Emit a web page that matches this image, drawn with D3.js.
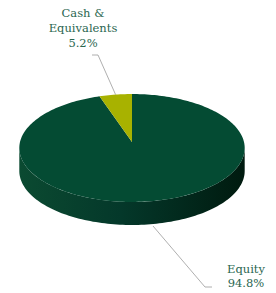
<!DOCTYPE html>
<html><head><meta charset="utf-8">
<script src="https://cdn.jsdelivr.net/npm/d3@7"></script>
<style>html,body{margin:0;padding:0;background:#fff;}svg{display:block;}
.lbl{font-family:"DejaVu Serif",serif;font-size:11.5px;fill:#2a6650;}</style>
</head><body>
<script>
const categories = ["Equity", "Cash & Equivalents"];
const values = [94.8, 5.2];
const labels = [["Equity", "94.8%"], ["Cash &", "Equivalents", "5.2%"]];
const colors = ["#044b33", "#a8b200"];

const W = 276, H = 293;
const cx = 132, cy = 142, rx = 112, ry = 53.3, k = 0.111, depth = 23;

const svg = d3.select("body").append("svg").attr("width", W).attr("height", H);
const defs = svg.append("defs");
const grad = defs.append("linearGradient").attr("id", "side").attr("x1", "0").attr("x2", "1").attr("y1", "0").attr("y2", "0");
grad.append("stop").attr("offset", "0%").attr("stop-color", "#0b4a31");
grad.append("stop").attr("offset", "45%").attr("stop-color", "#04382a");
grad.append("stop").attr("offset", "100%").attr("stop-color", "#001a0f");

function proj(a, r, dy) {
  const u = Math.sin(a) * r, v = -Math.cos(a) * r;
  const s = 1 / (1 - k * v);
  return [cx + rx * u * s, cy + ry * v * s + dy];
}

const pie = d3.pie().sort(null).startAngle(0).endAngle(2 * Math.PI);
const arcs = pie(values);

const aR = Math.acos(-k), aL = 2 * Math.PI - Math.acos(-k);
const sidePts = [];
const n = 120;
for (let i = 0; i <= n; i++) { const a = aR + (aL - aR) * i / n; sidePts.push(proj(a, 1, 0)); }
for (let i = n; i >= 0; i--) { const a = aR + (aL - aR) * i / n; sidePts.push(proj(a, 1, depth)); }
svg.append("path").attr("d", d3.line()(sidePts) + "Z").attr("fill", "url(#side)");

arcs.forEach((d, i) => {
  const pts = [proj(0, 0, 0)];
  const m = Math.max(4, Math.ceil((d.endAngle - d.startAngle) * 40));
  for (let j = 0; j <= m; j++) pts.push(proj(d.startAngle + (d.endAngle - d.startAngle) * j / m, 1, 0));
  svg.append("path").attr("d", d3.line()(pts) + "Z").attr("fill", colors[i]);
});

const line = d3.line();
const cashMid = (arcs[1].startAngle + arcs[1].endAngle) / 2;
const pc = proj(cashMid, 1, 0);
svg.append("path").attr("d", line([pc, [98, 55], [92, 55]]))
  .attr("fill", "none").attr("stroke", "#9a9a9a").attr("stroke-width", 0.8);
svg.append("path").attr("d", line([[153, 226], [205, 287], [212, 287]]))
  .attr("fill", "none").attr("stroke", "#9a9a9a").attr("stroke-width", 0.8);

const tc = svg.append("text").attr("class", "lbl").attr("text-anchor", "middle");
labels[1].forEach((t, i) => tc.append("tspan").attr("x", 83).attr("y", 17 + i * 15).text(t));
const te = svg.append("text").attr("class", "lbl").attr("text-anchor", "middle");
labels[0].forEach((t, i) => te.append("tspan").attr("x", 246).attr("y", 273 + i * 14).text(t));
</script>
</body></html>
